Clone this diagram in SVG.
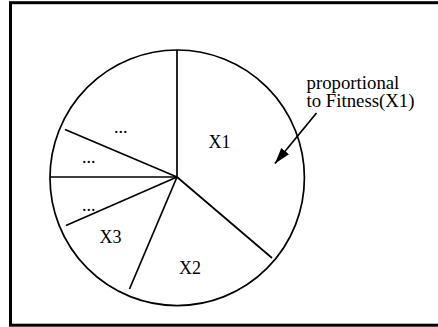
<svg xmlns="http://www.w3.org/2000/svg" width="438" height="327" viewBox="0 0 438 327">
<style>
.t{font-family:"Liberation Serif","Times New Roman",serif;font-size:18px;fill:#000}
.n{font-size:18.8px}
.ln{stroke:#000;stroke-width:1.7;fill:none}
</style>
<defs>
<marker id="ah" viewBox="0 0 16 10" refX="16" refY="5" markerWidth="16" markerHeight="10" markerUnits="userSpaceOnUse" orient="auto">
<path d="M0,0 L16,5 L0,10 Z" fill="#000"/>
</marker>
</defs>
<rect x="0" y="0" width="438" height="327" fill="#fff"/>
<rect id="frame" x="10.5" y="2.7" width="440" height="322.5" fill="none" stroke="#000" stroke-width="3"/>
<g id="pie">
<ellipse cx="177.2" cy="177.8" rx="127.2" ry="127.8" class="ln"/>
<line x1="177" y1="177" x2="177" y2="50" class="ln"/>
<line x1="177" y1="177" x2="272" y2="258" class="ln"/>
<line x1="177" y1="177" x2="129.5" y2="289" class="ln"/>
<line x1="177" y1="177" x2="66" y2="225.5" class="ln"/>
<line x1="177" y1="177" x2="50" y2="177" class="ln"/>
<line x1="177" y1="177" x2="65" y2="129.5" class="ln"/>
</g>
<g id="x1"><text class="t" x="219.5" y="147.5" text-anchor="middle">X1</text></g>
<g id="x2"><text class="t" x="190" y="273.5" text-anchor="middle">X2</text></g>
<g id="x3"><text class="t" x="110.5" y="242.5" text-anchor="middle">X3</text></g>
<g id="d1"><text class="t" x="120.8" y="132.5" text-anchor="middle">...</text></g>
<g id="d2"><text class="t" x="88.7" y="163" text-anchor="middle">...</text></g>
<g id="d3"><text class="t" x="88.7" y="211" text-anchor="middle">...</text></g>
<g id="note">
<text class="t n" x="306.5" y="88.5">proportional</text>
<text class="t n" x="306.5" y="107.3">to Fitness(X1)</text>
</g>
<g id="connectors">
<line x1="316.5" y1="113" x2="275" y2="163.5" class="ln" marker-end="url(#ah)"/>
</g>
</svg>
